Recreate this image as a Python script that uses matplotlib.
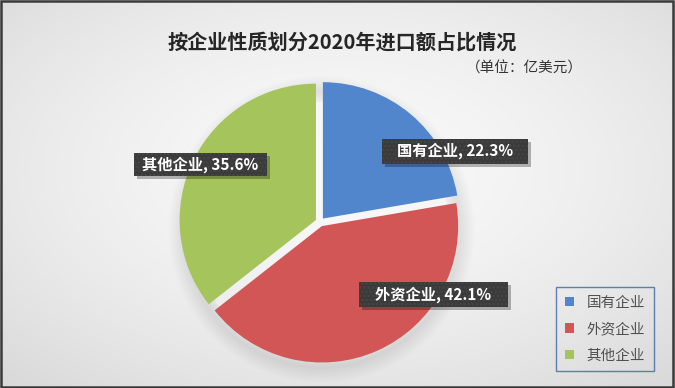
import numpy as np
import matplotlib.pyplot as plt
import matplotlib.patches as mpatches

plt.rcParams['font.family'] = ['Noto Sans CJK SC', 'DejaVu Sans']

# share of 2020 imports by enterprise type (%)
categories = ['国有企业', '外资企业', '其他企业']
shares = [22.3, 42.1, 35.6]
colors = ['#5286cc', '#d35656', '#a5c55c']

title = '按企业性质划分2020年进口额占比情况'
unit = '（单位：亿美元）'

W, H = 675, 388
fig = plt.figure(figsize=(W / 100, H / 100), dpi=100)

# soft radial background with a faint shadow under the pie
bg = fig.add_axes([0, 0, 1, 1], zorder=-5)
yy, xx = np.mgrid[0:H, 0:W]
rr = np.hypot((xx - 340) / W, (yy - 170) / H)
img = 249 - 52 * rr ** 1.6
ds = np.hypot(xx - 321, yy - 229)
shadow = np.clip(1 - np.abs(ds - 138) / 16, 0, 1) * (ds > 128)
img = img - 22 * shadow
img = np.clip(img, 0, 255) / 255
bg.imshow(np.dstack([img, img, img]), extent=[0, W, 0, H], aspect='auto', interpolation='bilinear')
bg.set_axis_off()

# pie axes: 300 px square centred on (320, 222) from top
size = 300
ax = fig.add_axes([(320 - size / 2) / W, (H - 222 - size / 2) / H, size / W, size / H])
wedges, _ = ax.pie(shares, colors=colors, startangle=90, counterclock=False,
                   explode=[0.033] * 3, radius=1,
                   wedgeprops=dict(linewidth=0))
ax.set_xlim(-1.1, 1.1)
ax.set_ylim(-1.1, 1.1)
ax.set_aspect('equal')
ax.set_axis_off()

# callout boxes (centre in data units, width/height in px)
label_pos = [(0.99, 0.52), (0.83, -0.53), (-0.88, 0.42)]
box_w = [146, 149, 133]
box_h = [25, 25, 23]
px = 2.2 / size
for cat, val, (lx, ly), bw, bh in zip(categories, shares, label_pos, box_w, box_h):
    w, h = bw * px, bh * px
    ax.add_patch(mpatches.Rectangle((lx - w / 2 + 3 * px, ly - h / 2 - 3 * px), w, h,
                                    facecolor='black', alpha=0.28, lw=0, zorder=5,
                                    clip_on=False))
    ax.add_patch(mpatches.Rectangle((lx - w / 2, ly - h / 2), w, h,
                                    facecolor='#3b3b3b', edgecolor='#474747', hatch='....',
                                    lw=0, zorder=6, clip_on=False))
    ax.text(lx, ly, f'{cat}, {val}%', ha='center', va='center', color='white',
            fontsize=11, fontweight='bold', zorder=7)

fig.text(342 / W, 1 - 42 / H, title, ha='center', va='center', fontsize=14.5,
         fontweight='bold', color='#262626')
fig.text(583 / W, 1 - 69 / H, unit, ha='right', va='center', fontsize=10.5, color='#333333')

handles = [mpatches.Patch(facecolor=c, edgecolor='none') for c in colors]
leg = fig.legend(handles, categories, loc='upper left',
                 bbox_to_anchor=(556 / W, 1 - 287 / H), borderaxespad=0,
                 frameon=True, fancybox=False, fontsize=10.5,
                 handlelength=0.6, handleheight=0.6, handletextpad=0.9,
                 labelspacing=0.85, borderpad=0.6, labelcolor='#505050')
leg.get_frame().set_edgecolor('#3d64a0')
leg.get_frame().set_facecolor('none')
leg.get_frame().set_linewidth(1.0)

# outer frame
fig.patches.append(mpatches.Rectangle((0.002, 0.003), 0.995, 0.994, transform=fig.transFigure,
                                      fill=False, edgecolor='#3a3a3a', lw=1.8))

fig.savefig('out.png', dpi=100)
